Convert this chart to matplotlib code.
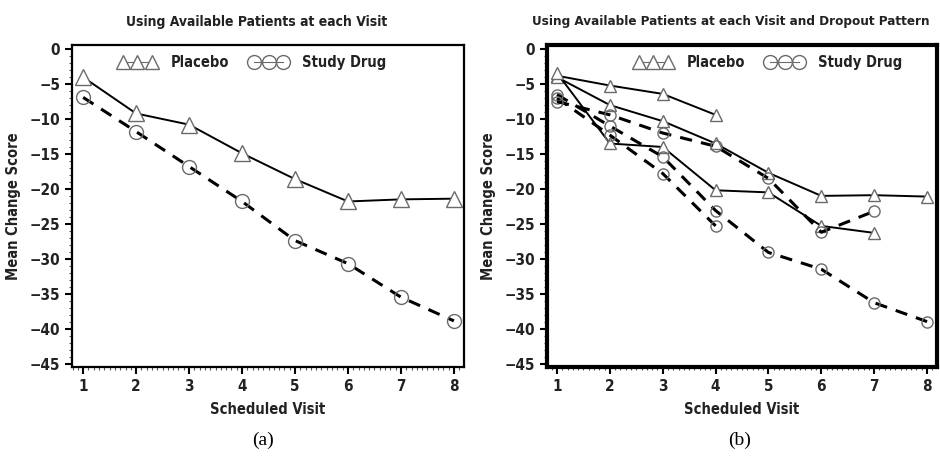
import numpy as np
import matplotlib
matplotlib.use("Agg")
import matplotlib.pyplot as plt
from matplotlib.ticker import MultipleLocator

visits = [1, 2, 3, 4, 5, 6, 7, 8]

# panel (a): available patients at each visit
placebo_a = [-4.0, -9.2, -10.8, -14.9, -18.6, -21.8, -21.5, -21.4]
drug_a = [-6.9, -11.8, -16.8, -21.8, -27.4, -30.7, -35.5, -38.9]

# panel (b): by dropout pattern
placebo_b = [
    [-3.8, -5.2, -6.4, -9.4],
    [-4.0, -8.0, -10.3, -13.5, -17.7, -21.0, -20.9, -21.1],
    [-3.4, -13.5, -14.0, -20.2, -20.5, -25.3, -26.3],
]
drug_b = [
    [-7.0, -12.3, -17.8, -25.3],
    [-6.5, -11.0, -15.4, -23.1, -29.1, -31.5, -36.3, -39.0],
    [-7.5, -9.4, -12.0, -13.9, -18.5, -26.2, -23.2],
]

titles = ["Using Available Patients at each Visit",
          "Using Available Patients at each Visit and Dropout Pattern"]
captions = ["(a)", "(b)"]

plt.rcParams["font.family"] = ["DejaVu Sans"]
plt.rcParams["font.stretch"] = "condensed"
plt.rcParams["font.weight"] = "bold"

fig = plt.figure(figsize=(9.4, 4.58), dpi=100)
ax_a = fig.add_axes([0.0766, 0.1987, 0.417, 0.703])
ax_b = fig.add_axes([0.5819, 0.1987, 0.415, 0.703])

grey = "#6a6a6a"
txt = "#222222"


def style_axes(ax, xlo, border):
    ax.set_xlim(xlo, 8.19)
    ax.set_ylim(-45.5, 0.6)
    ax.set_xticks(visits)
    ax.set_yticks(np.arange(0, -50, -5))
    ax.xaxis.set_minor_locator(MultipleLocator(0.1))
    ax.yaxis.set_minor_locator(MultipleLocator(1))
    ax.tick_params(which="major", length=5, width=1.5, labelsize=11, labelcolor=txt)
    ax.tick_params(which="minor", length=2.5, width=0.8, color="#555555")
    for lab in ax.get_xticklabels() + ax.get_yticklabels():
        lab.set_fontweight("bold")
    for s in ax.spines.values():
        s.set_linewidth(border)
    ax.set_xlabel("Scheduled Visit", fontsize=10.5, fontweight="bold", color=txt,
                  labelpad=6)
    ax.set_ylabel("Mean Change Score", fontsize=10.5, fontweight="bold", color=txt,
                  labelpad=6)


# panel (a)
ax_a.plot(visits, placebo_a, "-", color="black", lw=1.4, marker="^", ms=11,
          mfc="white", mec=grey, mew=1.0, label="Placebo")
ax_a.plot(visits, drug_a, "--", color="black", lw=2.2, dashes=(4, 3), marker="o",
          ms=10, mfc="none", mec=grey, mew=1.0, label="Study Drug")
style_axes(ax_a, 0.79, 1.6)

# panel (b)
for k, ys in enumerate(placebo_b):
    ax_b.plot(visits[:len(ys)], ys, "-", color="black", lw=1.4, marker="^", ms=8,
              mfc="white", mec=grey, mew=1.0, label="Placebo" if k == 0 else None)
for k, ys in enumerate(drug_b):
    ax_b.plot(visits[:len(ys)], ys, "--", color="black", lw=2.2, dashes=(4, 3),
              marker="o", ms=8, mfc="none", mec=grey, mew=1.0,
              label="Study Drug" if k == 0 else None)
style_axes(ax_b, 0.81, 3.0)

for ax, xc in ((ax_a, 0.46), (ax_b, 0.568)):
    leg = ax.legend(loc="upper center", ncol=2, numpoints=3, frameon=False,
                    handlelength=2.6, columnspacing=1.4, handletextpad=1.0,
                    bbox_to_anchor=(xc, 1.01), prop={"size": 10.5, "weight": "bold"})
    for t in leg.get_texts():
        t.set_color(txt)
    for h in leg.legend_handles:
        h.set_linestyle("-")
        h.set_linewidth(0.8)
        h.set_color(grey)
        h.set_markersize(10)

fig.text(0.273, 0.952, titles[0], ha="center", va="center", fontsize=10,
         fontweight="bold", color=txt)
fig.text(0.566, 0.952, titles[1], ha="left", va="center", fontsize=9.6,
         fontweight="bold", color=txt)
fig.text(0.280, 0.038, captions[0], ha="center", va="center", fontsize=14,
         family="Liberation Serif", fontweight="normal", fontstretch="normal")
fig.text(0.787, 0.038, captions[1], ha="center", va="center", fontsize=14,
         family="Liberation Serif", fontweight="normal", fontstretch="normal")

fig.savefig("out.png", dpi=100)
